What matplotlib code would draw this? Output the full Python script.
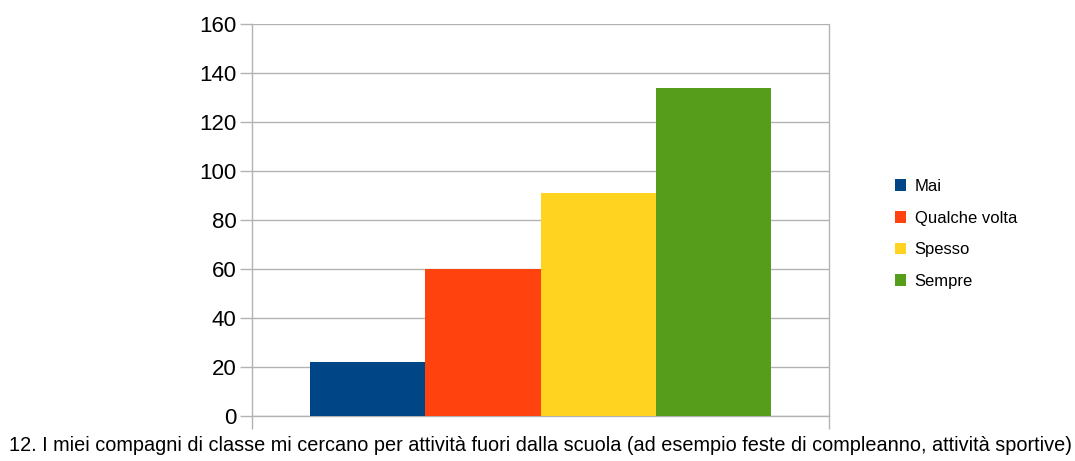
import matplotlib.pyplot as plt
import numpy as np

plt.rcParams['font.family'] = ['Liberation Sans Narrow', 'Liberation Sans', 'DejaVu Sans']

# dati
serie = ["Mai", "Qualche volta", "Spesso", "Sempre"]
valori = [22, 60, 91, 134]
colori = ["#004586", "#ff420e", "#ffd320", "#579d1c"]
titolo = ("12. I miei compagni di classe mi cercano per attività fuori dalla scuola "
          "(ad esempio feste di compleanno, attività sportive)")
yticks = [0, 20, 40, 60, 80, 100, 120, 140, 160]

W, H = 1075, 461
fig = plt.figure(figsize=(W / 100, H / 100), dpi=100)
ax = fig.add_axes([252 / W, (H - 416) / H, (829 - 252) / W, (416 - 24) / H])

larg = 0.2
n = len(serie)
pos = (np.arange(n) - (n - 1) / 2) * larg
barre = []
for p, v, c, s in zip(pos, valori, colori, serie):
    b = ax.bar(p, v, width=larg, color=c, label=s, zorder=3)
    barre.append(b)

ax.set_xlim(-0.5, 0.5)
ax.set_ylim(0, 160)
ax.set_yticks(yticks)
ax.set_xticks([-0.5, 0.5])
ax.set_xticklabels([])
ax.tick_params(axis='y', labelsize=16, length=9, color='#b3b3b3', width=1, pad=2)
ax.tick_params(axis='x', length=9, color='#b3b3b3', width=1)
ax.grid(axis='y', color='#b3b3b3', linewidth=1, zorder=0)

for nome, sp in ax.spines.items():
    sp.set_color('#b3b3b3')
    sp.set_linewidth(1)
ax.spines['top'].set_visible(False)

ax.set_xlabel(titolo, fontsize=14.3, labelpad=2)

fig.legend(handles=barre, labels=serie, loc='center left',
           bbox_to_anchor=(888 / W, 1 - 234 / H), frameon=False,
           fontsize=12, handlelength=0.7, handleheight=0.7,
           handletextpad=0.5, labelspacing=1.0, borderaxespad=0)

fig.savefig("out.png", dpi=100)
